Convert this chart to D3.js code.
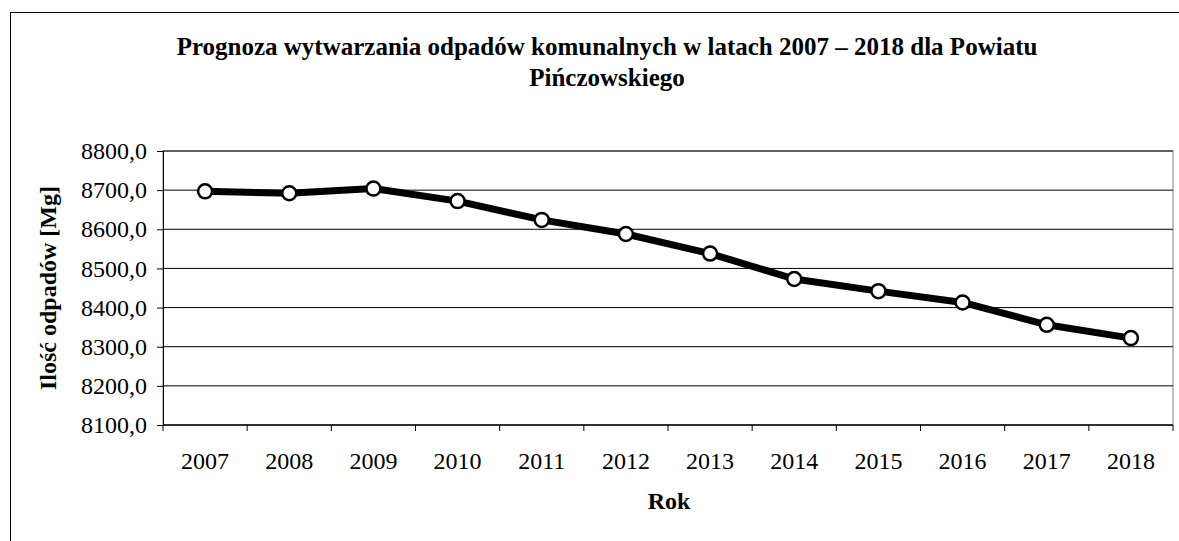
<!DOCTYPE html>
<html>
<head>
<meta charset="utf-8">
<script src="https://cdn.jsdelivr.net/npm/d3@7"></script>
<style>
  body { margin: 0; background: #fff; }
  text { font-family: "Liberation Serif", "Times New Roman", serif; fill: #000; }
</style>
</head>
<body>
<div id="chart"></div>
<script>
// Data
var years = ["2007", "2008", "2009", "2010", "2011", "2012", "2013", "2014", "2015", "2016", "2017", "2018"];
var waste = [8697, 8692, 8704, 8672, 8624, 8588, 8538, 8473, 8442, 8413, 8356, 8322];
var yTicks = [8100, 8200, 8300, 8400, 8500, 8600, 8700, 8800];

var svgWidth = 1179;
var svgHeight = 541;

var margin = { top: 151, right: 6, bottom: 116, left: 163 };
var width = svgWidth - margin.left - margin.right;
var height = svgHeight - margin.top - margin.bottom;

var serif = "'Liberation Serif', 'Times New Roman', serif";

var svg = d3.select("#chart")
  .append("svg")
  .attr("width", svgWidth)
  .attr("height", svgHeight);

// outer frame
svg.append("rect")
  .attr("x", 10.5)
  .attr("y", 12.5)
  .attr("width", 1300)
  .attr("height", 700)
  .attr("fill", "none")
  .attr("stroke", "#000")
  .attr("stroke-width", 1);

// Title
svg.append("text")
  .attr("x", 607)
  .attr("y", 55)
  .attr("text-anchor", "middle")
  .style("font-family", serif)
  .style("font-size", "25px")
  .style("font-weight", "bold")
  .text("Prognoza wytwarzania odpadów komunalnych w latach 2007 – 2018 dla Powiatu");

svg.append("text")
  .attr("x", 607)
  .attr("y", 86)
  .attr("text-anchor", "middle")
  .style("font-family", serif)
  .style("font-size", "25px")
  .style("font-weight", "bold")
  .text("Pińczowskiego");

var chartGroup = svg.append("g")
  .attr("transform", `translate(${margin.left}, ${margin.top})`);

var xScale = d3.scaleBand()
  .domain(years)
  .range([0, width]);

var yScale = d3.scaleLinear()
  .domain([8100, 8800])
  .range([height, 0]);

// plot area border
chartGroup.append("rect")
  .attr("x", 0)
  .attr("y", 0)
  .attr("width", width)
  .attr("height", height)
  .attr("fill", "none")
  .attr("stroke", "#808080")
  .attr("stroke-width", 1);

// gridlines
chartGroup.selectAll(".grid")
  .data(yTicks)
  .enter()
  .append("line")
  .attr("class", "grid")
  .attr("x1", 0)
  .attr("x2", width)
  .attr("y1", d => yScale(d))
  .attr("y2", d => yScale(d))
  .attr("stroke", "#000")
  .attr("stroke-width", 1);

// Y axis
var leftAxis = d3.axisLeft(yScale)
  .tickValues(yTicks)
  .tickSize(6)
  .tickPadding(10)
  .tickFormat(d => d3.format(".1f")(d).replace(".", ","));

chartGroup.append("g")
  .call(leftAxis)
  .call(g => g.selectAll("text").style("font-size", "24px").style("font-family", serif));

// X axis with ticks between categories
var bottomAxis = d3.axisBottom(xScale)
  .tickSize(0)
  .tickPadding(27);

chartGroup.append("g")
  .attr("transform", `translate(0, ${height})`)
  .call(bottomAxis)
  .call(g => g.select(".domain").remove())
  .call(g => g.selectAll("text").style("font-size", "24px").style("font-family", serif));

chartGroup.selectAll(".xtick")
  .data(d3.range(years.length + 1))
  .enter()
  .append("line")
  .attr("class", "xtick")
  .attr("x1", i => i * xScale.step())
  .attr("x2", i => i * xScale.step())
  .attr("y1", height)
  .attr("y2", height + 6)
  .attr("stroke", "#000");

chartGroup.append("line")
  .attr("x1", 0).attr("x2", width)
  .attr("y1", height).attr("y2", height)
  .attr("stroke", "#000");

// Line
var line = d3.line()
  .x((d, i) => xScale(years[i]) + xScale.bandwidth() / 2)
  .y(d => yScale(d));

chartGroup.append("path")
  .datum(waste)
  .attr("d", line)
  .attr("fill", "none")
  .attr("stroke", "#000")
  .attr("stroke-width", 7)
  .attr("stroke-linejoin", "round");

chartGroup.selectAll("circle")
  .data(waste)
  .enter()
  .append("circle")
  .attr("cx", (d, i) => xScale(years[i]) + xScale.bandwidth() / 2)
  .attr("cy", d => yScale(d))
  .attr("r", 7)
  .attr("fill", "#fff")
  .attr("stroke", "#000")
  .attr("stroke-width", 2.5);

// Axis labels
svg.append("text")
  .attr("transform", "translate(56, 288) rotate(-90)")
  .attr("text-anchor", "middle")
  .style("font-family", serif)
  .style("font-size", "24px")
  .style("font-weight", "bold")
  .text("Ilość odpadów [Mg]");

svg.append("text")
  .attr("x", 669)
  .attr("y", 509)
  .attr("text-anchor", "middle")
  .style("font-family", serif)
  .style("font-size", "24px")
  .style("font-weight", "bold")
  .text("Rok");
</script>
</body>
</html>
